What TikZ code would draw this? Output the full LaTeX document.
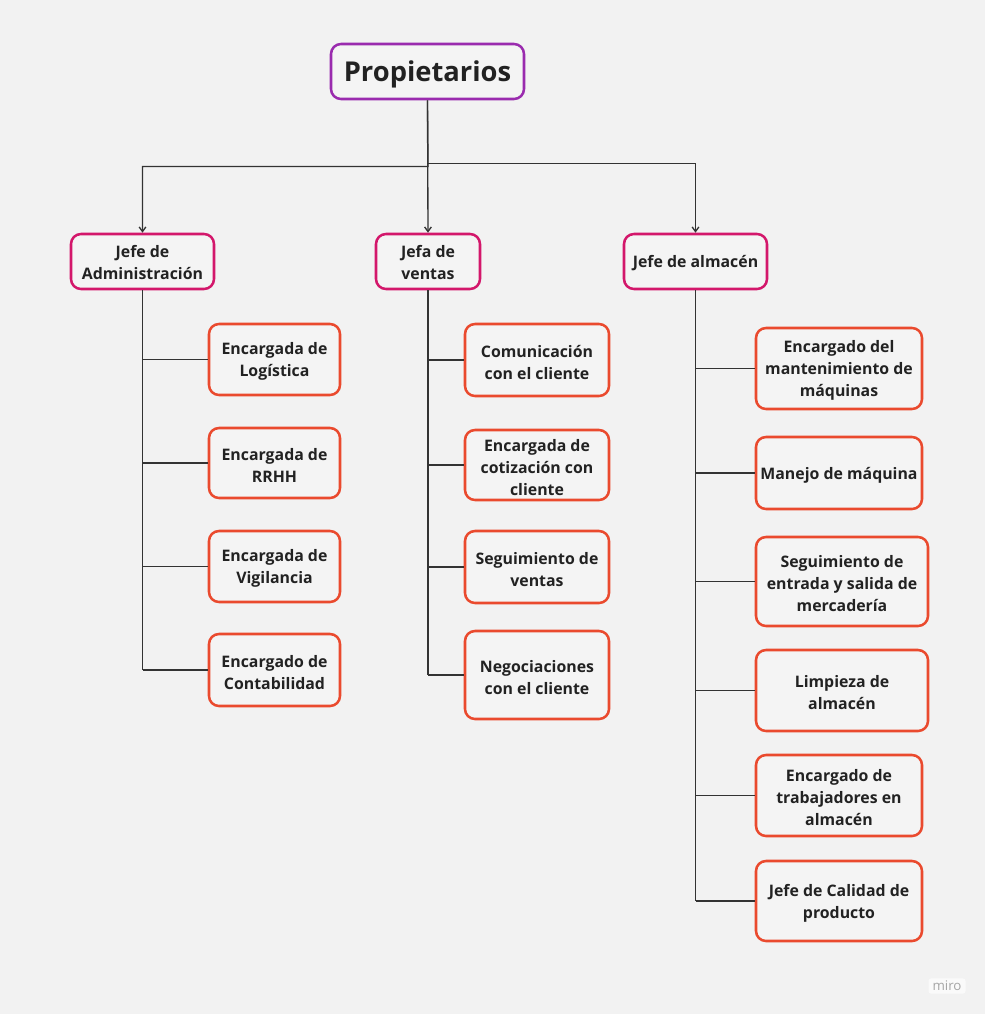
\documentclass[tikz,border=0pt]{standalone}
\usepackage{fontspec}
\setmainfont{Open Sans}
\usetikzlibrary{arrows.meta}
\definecolor{bg}{HTML}{F2F2F2}
\definecolor{boxfill}{HTML}{F4F4F4}
\definecolor{purp}{HTML}{9A2BAE}
\definecolor{mag}{HTML}{D3176B}
\definecolor{orng}{HTML}{EA4A2E}
\definecolor{ink}{HTML}{222222}
\definecolor{wire}{HTML}{333333}
\newcommand{\tstrut}{\rule{0pt}{12.5pt}}
\newcommand{\hstrut}{\rule{0pt}{11pt}}
\tikzset{
  base/.style={draw, fill=boxfill, rounded corners=7.5pt, line width=1.9pt, align=center,
    text=ink, font=\bfseries\fontsize{11.9}{16.5}\selectfont, inner sep=0pt},
  topbox/.style={base, draw=purp, font=\bfseries\fontsize{20.5}{24}\selectfont},
  headbox/.style={base, draw=mag},
  leafbox/.style={base, draw=orng},
  wirel/.style={draw=wire, line width=1pt},
  arr/.style={wirel, -{Straight Barb[length=3.5pt,width=5pt]}},
}
\begin{document}
\begin{tikzpicture}[x=0.75pt,y=-0.75pt]
\fill[bg] (0,0) rectangle (985,1014);
\useasboundingbox (0,0) rectangle (985,1014);
% top
\node[topbox, minimum width={193*0.75pt}, minimum height={55*0.75pt}] (prop) at (427.5,71.5) {\rule{0pt}{19.6pt}Propietarios};
% heads
\node[headbox, minimum width={143*0.75pt}, minimum height={55*0.75pt}] (adm) at (142.5,261.5) {\hstrut Jefe de\\Administración};
\node[headbox, minimum width={104*0.75pt}, minimum height={55*0.75pt}] (ven) at (428,261.5) {\hstrut Jefa de\\ventas};
\node[headbox, minimum width={143*0.75pt}, minimum height={55*0.75pt}] (alm) at (695.5,261.5) {\hstrut Jefe de almacén};
% left leaves
\node[leafbox, minimum width={131*0.75pt}, minimum height={71*0.75pt}] (l1) at (274.5,359.5) {\tstrut Encargada de\\Logística};
\node[leafbox, minimum width={131*0.75pt}, minimum height={70*0.75pt}] (l2) at (274.5,463) {\tstrut Encargada de\\RRHH};
\node[leafbox, minimum width={131*0.75pt}, minimum height={71*0.75pt}] (l3) at (274.5,566.5) {\tstrut Encargada de\\Vigilancia};
\node[leafbox, minimum width={131*0.75pt}, minimum height={72*0.75pt}] (l4) at (274.5,670) {\tstrut Encargado de\\Contabilidad};
% middle leaves
\node[leafbox, minimum width={144*0.75pt}, minimum height={72*0.75pt}] (m1) at (537,360) {\tstrut Comunicación\\con el cliente};
\node[leafbox, minimum width={144*0.75pt}, minimum height={70*0.75pt}] (m2) at (537,465) {\tstrut Encargada de\\cotización con\\cliente};
\node[leafbox, minimum width={144*0.75pt}, minimum height={72*0.75pt}] (m3) at (537,567) {\tstrut Seguimiento de\\ventas};
\node[leafbox, minimum width={144*0.75pt}, minimum height={88*0.75pt}] (m4) at (537,675) {\tstrut Negociaciones\\con el cliente};
% right leaves
\node[leafbox, minimum width={166*0.75pt}, minimum height={81*0.75pt}] (r1) at (839,368.5) {\tstrut Encargado del\\mantenimiento de\\máquinas};
\node[leafbox, minimum width={166*0.75pt}, minimum height={72*0.75pt}] (r2) at (839,473) {\tstrut Manejo de máquina};
\node[leafbox, minimum width={172*0.75pt}, minimum height={89*0.75pt}] (r3) at (842,581.5) {\tstrut Seguimiento de\\entrada y salida de\\mercadería};
\node[leafbox, minimum width={172*0.75pt}, minimum height={81*0.75pt}] (r4) at (842,690.5) {\tstrut Limpieza de\\almacén};
\node[leafbox, minimum width={166*0.75pt}, minimum height={81*0.75pt}] (r5) at (839,795.5) {\tstrut Encargado de\\trabajadores en\\almacén};
\node[leafbox, minimum width={166*0.75pt}, minimum height={80*0.75pt}] (r6) at (839,901) {\tstrut Jefe de Calidad de\\producto};
% top connectors
\coordinate (jl) at (428,166.5);
\coordinate (jr) at (428,163.5);
\draw[arr] (prop.south) -- (ven.north);
\draw[arr] (prop.south) -- (jl) -| (adm.north);
\draw[arr] (jr) -| (alm.north);
% left branch
\draw[wirel] (adm.south) -- (adm.south |- l4.west);
\foreach \n in {l1,l2,l3,l4} \draw[wirel] (adm.south |- \n.west) -- (\n.west);
% middle branch
\draw[wirel] (ven.south) -- (ven.south |- m4.west);
\foreach \n in {m1,m2,m3,m4} \draw[wirel] (ven.south |- \n.west) -- (\n.west);
% right branch
\draw[wirel] (alm.south) -- (alm.south |- r6.west);
\foreach \n in {r1,r2,r3,r4,r5,r6} \draw[wirel] (alm.south |- \n.west) -- (\n.west);
% watermark
\node[fill=white!60!bg, rounded corners=2pt, text=black!35, font=\fontsize{10}{11}\selectfont, inner xsep=3pt, inner ysep=2pt] (miro) at (947,986) {miro};
\end{tikzpicture}
\end{document}
